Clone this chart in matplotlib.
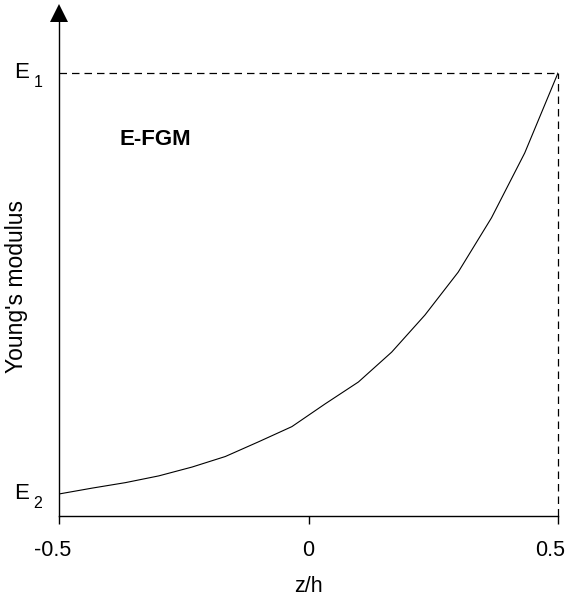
import matplotlib
matplotlib.use('Agg')
import matplotlib.pyplot as plt
import matplotlib.transforms as mtransforms
import numpy as np

plt.rcParams['font.family'] = ['Liberation Sans', 'DejaVu Sans']

# z/h positions and normalised modulus (0 = E2, 1 = E1)
z = [-0.5, -0.4333, -0.3667, -0.3, -0.2333, -0.1667, -0.1, -0.0333,
     0.0333, 0.1, 0.1667, 0.2333, 0.3, 0.3667, 0.4333, 0.5]
E = [0.0, 0.014, 0.027, 0.043, 0.064, 0.089, 0.124, 0.160,
     0.214, 0.266, 0.337, 0.425, 0.527, 0.656, 0.81, 1.0]
xticks = [-0.5, 0, 0.5]
xticklabels = ['-0.5', '0', '0.5']

fig = plt.figure(figsize=(5.71, 6.0), dpi=100)
# axes from x=59..558 px, y=516 (bottom) .. 13 (top, arrow base)
ax = fig.add_axes([59/571, 84/600, 499/571, 503/600])

ax.plot(z, E, color='black', lw=0.8)

# dashed guides to E1
ax.plot([-0.5, 0.5], [1, 1], color='black', lw=0.9, ls=(0, (6, 4)),
        clip_on=False)
ax.plot([0.5, 0.5], [-0.0523, 1], color='black', lw=0.9, ls=(0, (6, 4)),
        clip_on=False)

ax.set_xlim(-0.5, 0.5)
ax.set_ylim(-0.0523, 1.1425)

for s in ['top', 'right']:
    ax.spines[s].set_visible(False)
ax.spines['left'].set_linewidth(1.0)
ax.spines['bottom'].set_linewidth(1.0)

# arrow head on the y axis
ax.plot([-0.5], [1.1425], marker='^', ms=13, color='black', clip_on=False,
        markeredgewidth=0)

ax.set_xticks(xticks)
ax.set_xticklabels(xticklabels, fontsize=15.5)
ax.tick_params(axis='x', direction='out', length=6, width=1, pad=11)
ax.set_yticks([])

# the end labels sit a little to the left of their ticks
shifts = [-6, 0, -8]
for lab, dx in zip(ax.get_xticklabels(), shifts):
    off = mtransforms.ScaledTranslation(dx/100, 0, fig.dpi_scale_trans)
    lab.set_transform(lab.get_transform() + off)

ax.set_xlabel('z/h', fontsize=15.5, labelpad=11)
fig.text(17/571, 1 - 287/600, "Young's modulus", fontsize=16.5,
         rotation=90, ha='center', va='center')

# E1 / E2 labels
for val, sub in [(1.0, '1'), (0.0, '2')]:
    ax.annotate('E', xy=(0, val), xycoords=('axes fraction', 'data'),
                xytext=(-32, 0), textcoords='offset points',
                fontsize=16, ha='left', va='center')
    ax.annotate(sub, xy=(0, val), xycoords=('axes fraction', 'data'),
                xytext=(-18.5, -7), textcoords='offset points',
                fontsize=11.5, ha='left', va='center')

ax.text(-0.378, 0.843, 'E-FGM', fontsize=16, fontweight='bold',
        ha='left', va='center')

fig.savefig('out.png', dpi=100)
